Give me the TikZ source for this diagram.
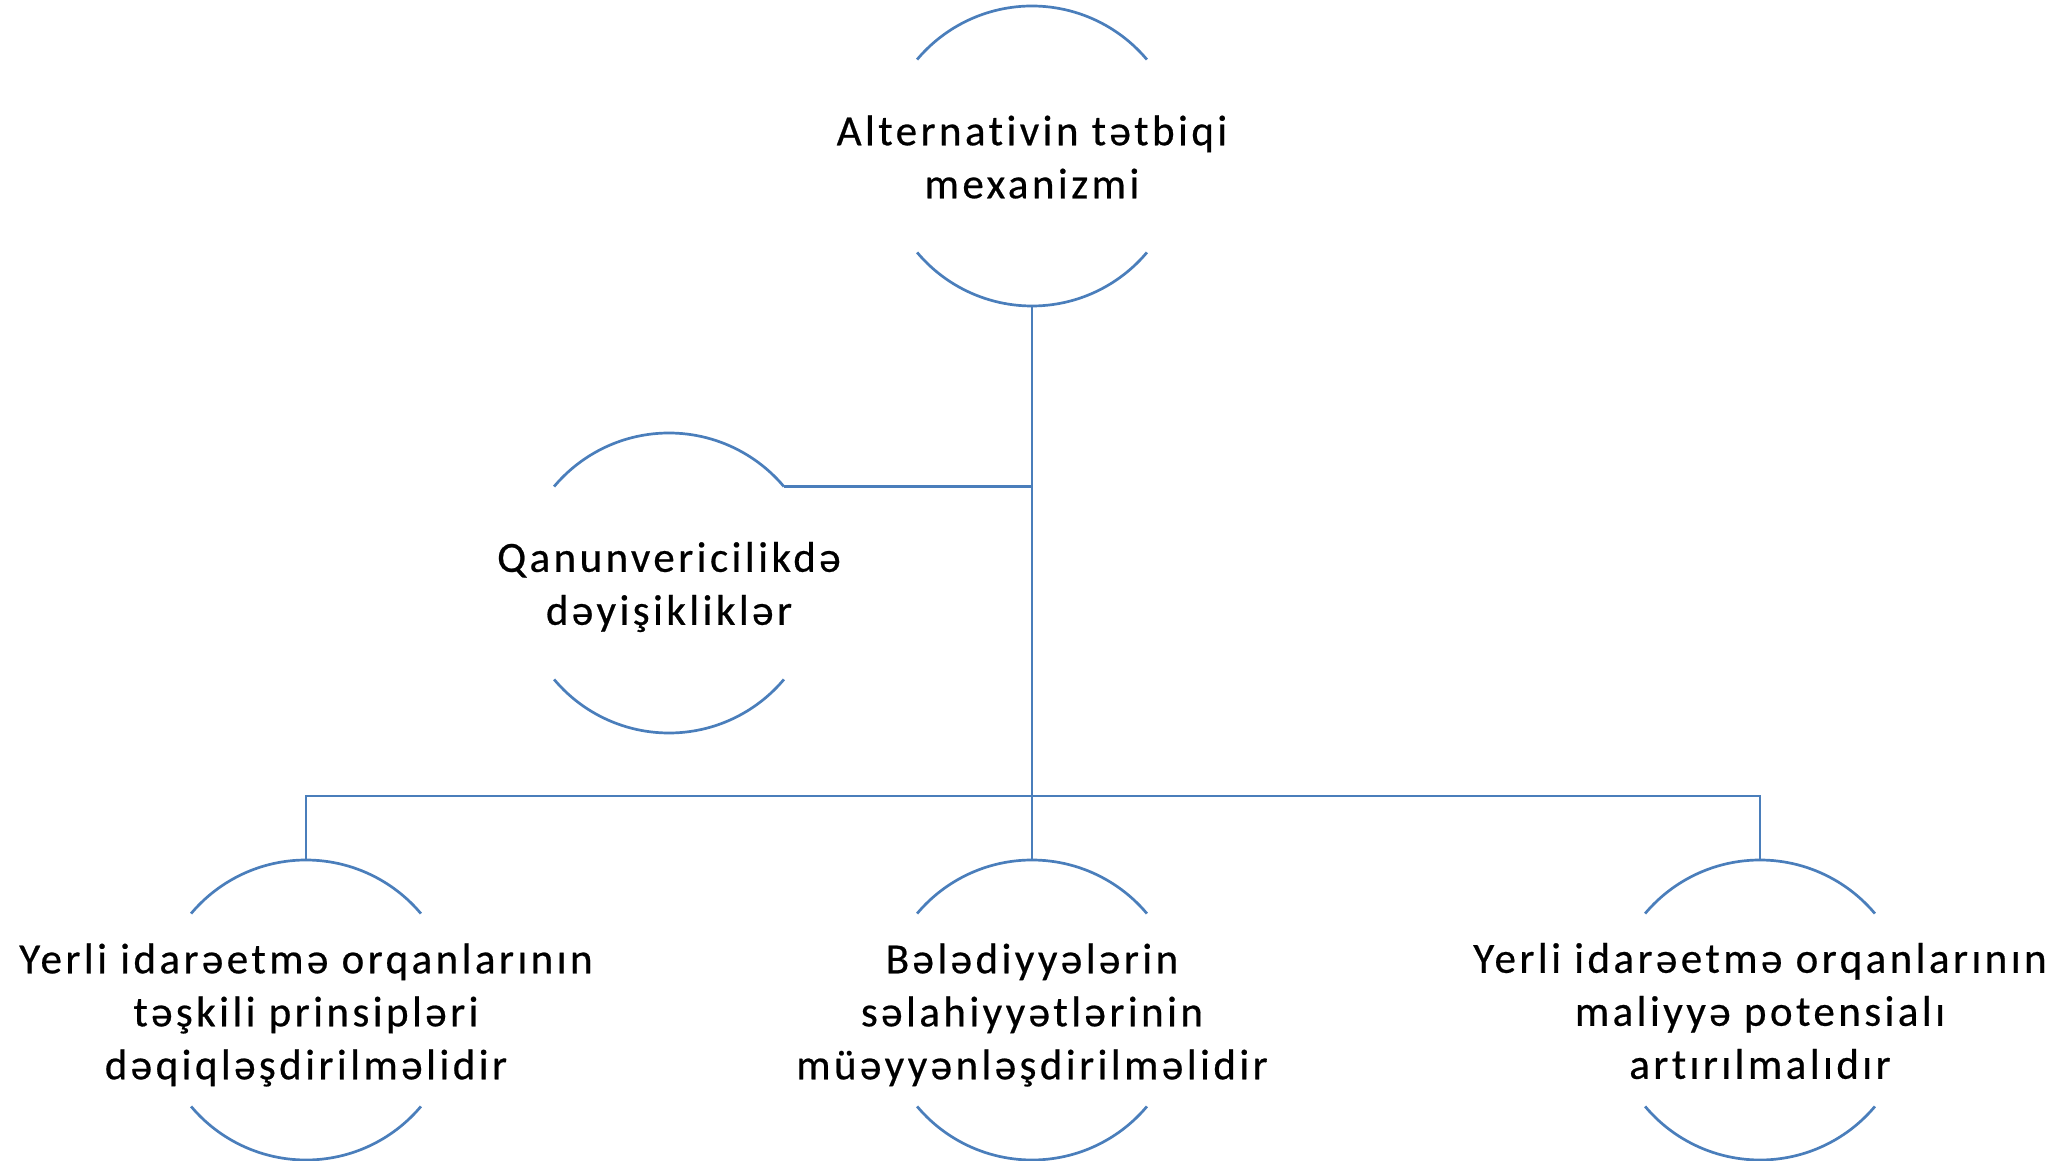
\documentclass[tikz,border=0pt]{standalone}
\usepackage{fontspec}
\setmainfont{Carlito}[Ligatures=NoCommon,LetterSpace=8,FakeBold=0.5]
\definecolor{linkblue}{RGB}{74,126,187}
\begin{document}
\begin{tikzpicture}[x=1pt,y=1pt,
  ring/.style={shape=circle,minimum size=300pt,inner sep=0pt,outer sep=0pt,draw=none},
  arcline/.style={draw=linkblue,line width=2.7pt},
  link/.style={draw=linkblue,line width=2.7pt},
  txt/.style={align=center,inner sep=0pt,
    font=\fontsize{43}{53}\selectfont,text=black}]
\useasboundingbox (0,0) rectangle (2066,1160);
% circle frames
\node[ring] (top) at (1032,1004) {};
\node[ring] (left) at (669,577) {};
\node[ring] (b1) at (306,150) {};
\node[ring] (b2) at (1032,150) {};
\node[ring] (b3) at (1760,150) {};
\foreach \n in {top,left,b1,b2,b3}{
  \draw[arcline] (\n.40) arc[start angle=40,end angle=140,radius=150pt];
  \draw[arcline] (\n.220) arc[start angle=220,end angle=320,radius=150pt];
}
% texts
\node[txt,yshift=-1pt] (ttop) at (top) {Alternativin tətbiqi\\mexanizmi};
\node[txt,yshift=-4pt] (tleft) at (left) {Qanunvericilikdə\\dəyişikliklər};
\node[txt,yshift=-5pt] (tb1) at (b1) {Yerli idarəetmə orqanlarının\\təşkili prinsipləri\\dəqiqləşdirilməlidir};
\node[txt,yshift=-5pt] (tb2) at (b2) {Bələdiyyələrin\\səlahiyyətlərinin\\müəyyənləşdirilməlidir};
\node[txt,yshift=-1pt] (tb3) at (b3) {Yerli idarəetmə orqanlarının\\maliyyə potensialı\\artırılmalıdır};
% connectors
\coordinate (bus) at (1032,364);
\draw[link] (top.south) -- (b2.north);
\draw[link] (left.40) -- (left.40 -| top.south);
\draw[link] (b1.north) |- (bus) -| (b3.north);
\end{tikzpicture}
\end{document}
